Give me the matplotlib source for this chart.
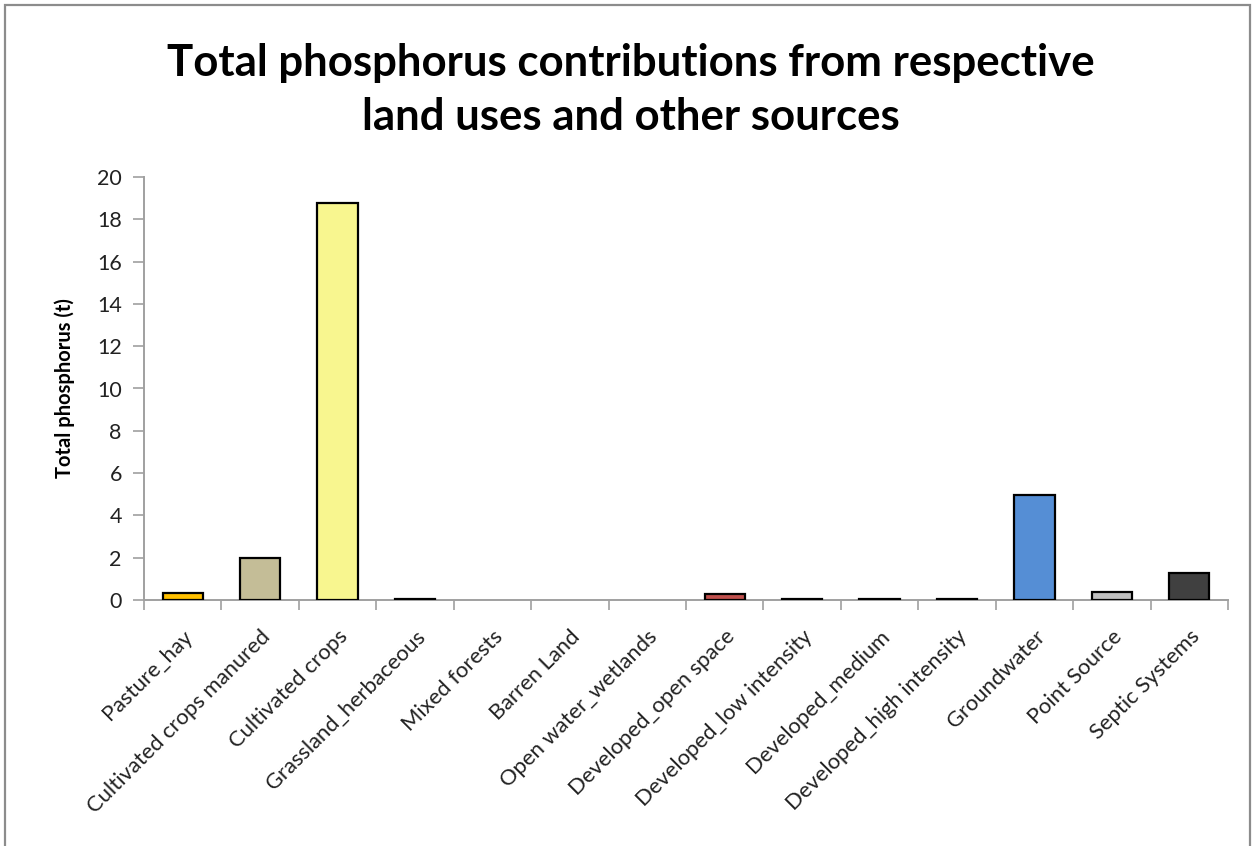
import matplotlib
matplotlib.use("Agg")
import matplotlib.pyplot as plt
from matplotlib.patches import Rectangle
import numpy as np

categories = ["Pasture_hay", "Cultivated crops manured", "Cultivated crops",
              "Grassland_herbaceous", "Mixed forests", "Barren Land",
              "Open water_wetlands", "Developed_open space",
              "Developed_low intensity", "Developed_medium",
              "Developed_high intensity", "Groundwater", "Point Source",
              "Septic Systems"]
values = [0.35, 2.0, 18.77, 0.03, 0.0, 0.0, 0.0, 0.3, 0.03, 0.03, 0.03,
          4.96, 0.4, 1.27]
colors = ["#FFC000", "#C4BD97", "#F8F68F", "#404040", "#404040", "#404040",
          "#404040", "#C0504D", "#404040", "#404040", "#404040", "#558ED5",
          "#BFBFBF", "#404040"]
yticks = [0, 2, 4, 6, 8, 10, 12, 14, 16, 18, 20]

plt.rcParams['font.family'] = ['Lato', 'DejaVu Sans']

W, H = 1252, 846
fig = plt.figure(figsize=(W / 100, H / 100), dpi=100)
fig.patch.set_facecolor("white")

# outer chart border
fig.patches.append(Rectangle((5 / W, -0.05), (1250 - 5) / W, 1.05 - 5 / H,
                             transform=fig.transFigure, fill=False,
                             edgecolor="#8C8C8C", linewidth=1.6))

ax = fig.add_axes([144 / W, 1 - 600 / H, (1228 - 144) / W, (600 - 177) / H])
x = np.arange(len(categories))
edge_lw = [1.6 if v > 0 else 0 for v in values]
ax.bar(x, values, width=0.52, color=colors, edgecolor="black",
       linewidth=edge_lw, zorder=3)

ax.set_xlim(-0.5, len(categories) - 0.5)
ax.set_ylim(0, 20)
ax.set_yticks(yticks)
ax.set_yticklabels([str(v) for v in yticks], fontsize=15.5, color="#222222")
ax.tick_params(axis="y", direction="out", length=8, width=1.2,
               color="#A0A0A0", pad=8)

ax.set_xticks(x)
ax.set_xticklabels(categories, rotation=45, ha="right", rotation_mode="anchor",
                   fontsize=15.8, color="#222222")
ax.set_xticks(np.arange(-0.5, len(categories) + 0.5, 1), minor=True)
ax.tick_params(axis="x", which="major", length=0, pad=19)
ax.tick_params(axis="x", which="minor", direction="out", length=7, width=1.2,
               color="#A0A0A0")

for s in ["top", "right"]:
    ax.spines[s].set_visible(False)
for s in ["left", "bottom"]:
    ax.spines[s].set_color("#A0A0A0")
    ax.spines[s].set_linewidth(1.4)

ax.set_ylabel("Total phosphorus (t)", fontsize=14.5, fontweight="bold",
              labelpad=16)

fig.text(631 / W, 1 - 90 / H,
         "Total phosphorus contributions from respective\nland uses and other sources",
         ha="center", va="center", fontsize=31.5, fontweight="bold",
         linespacing=1.45)

fig.savefig("out.png", dpi=100, facecolor="white")
